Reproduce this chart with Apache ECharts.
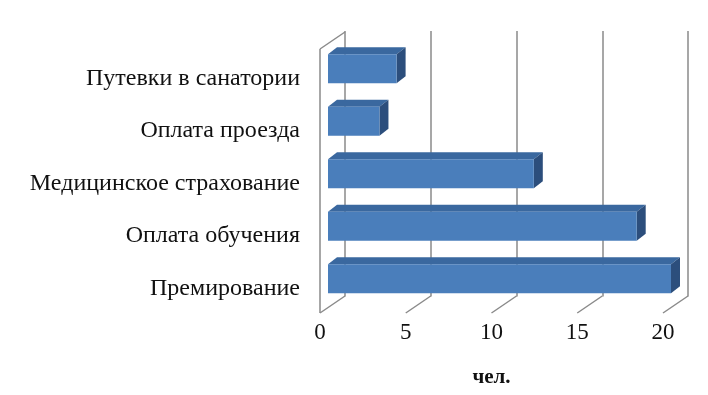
<!DOCTYPE html>
<html><head><meta charset="utf-8">
<script src="https://cdn.jsdelivr.net/npm/echarts@6/dist/echarts.min.js"></script>
<style>html,body{margin:0;padding:0;background:#fff}#c{width:708px;height:395px}</style>
</head><body><div id="c"></div>
<script>
var categories = ['Премирование', 'Оплата обучения', 'Медицинское страхование', 'Оплата проезда', 'Путевки в санатории'];
var values = [20, 18, 12, 3, 4];
var xTicks = [0, 5, 10, 15, 20];
var xName = 'чел.';

var DEPTH_X = 25, DEPTH_Y = 17;   // wall depth
var BAR_DX = 8, BAR_DY = 9.5;     // bar front-face offset from front plane
var BD_X = 9, BD_Y = 7;           // bar depth
var FONT = '"Liberation Serif","Times New Roman",serif';

var chart = echarts.init(document.getElementById('c'));
chart.setOption({
  animation: false,
  grid: [
    {left: 345, width: 343, top: 31, bottom: 395 - 296.5},
    {left: 320, width: 343, top: 52, height: 262.5}
  ],
  xAxis: [
    {gridIndex: 0, type: 'value', min: 0, max: 20, interval: 5,
     axisLine: {show: false}, axisTick: {show: false}, axisLabel: {show: false},
     splitLine: {show: true, lineStyle: {color: '#8a8a8a', width: 1.5}}},
    {gridIndex: 1, type: 'value', min: 0, max: 20, interval: 5,
     axisLine: {show: false}, axisTick: {show: false}, splitLine: {show: false},
     axisLabel: {margin: 7, fontFamily: FONT, fontSize: 23, color: '#111'},
     name: xName, nameLocation: 'middle', nameGap: 53,
     nameTextStyle: {fontFamily: FONT, fontSize: 21, fontWeight: 'bold', color: '#111'}}
  ],
  yAxis: [
    {gridIndex: 0, type: 'value', show: false},
    {gridIndex: 1, type: 'category', data: categories,
     axisLine: {show: false}, axisTick: {show: false}, splitLine: {show: false},
     axisLabel: {margin: 20, fontFamily: FONT, fontSize: 24, color: '#111'}}
  ],
  series: [
    {
      type: 'custom', xAxisIndex: 1, yAxisIndex: 1, z: 1,
      data: xTicks.map(function (t) { return [t]; }),
      encode: {x: 0},
      renderItem: function (params, api) {
        var cs = params.coordSys;
        var x = api.coord([api.value(0), 0])[0];
        var yb = cs.y + cs.height - 1.5;
        var children = [{type: 'line', shape: {x1: x, y1: yb, x2: x + DEPTH_X, y2: yb - DEPTH_Y},
                         style: {stroke: '#8a8a8a', lineWidth: 1.5}}];
        if (params.dataIndex === 0) {
          var yt = 31 + DEPTH_Y + 1;
          children.push({type: 'line', shape: {x1: x, y1: yt, x2: x, y2: yb}, style: {stroke: '#8a8a8a', lineWidth: 1.5}});
          children.push({type: 'line', shape: {x1: x, y1: yt, x2: x + DEPTH_X, y2: yt - DEPTH_Y}, style: {stroke: '#8a8a8a', lineWidth: 1.5}});
        }
        return {type: 'group', children: children};
      }
    },
    {
      type: 'custom', xAxisIndex: 1, yAxisIndex: 1, z: 5,
      data: values.map(function (v, i) { return [v, i]; }),
      encode: {x: 0, y: 1},
      renderItem: function (params, api) {
        var p0 = api.coord([0, api.value(1)]);
        var p1 = api.coord([api.value(0), api.value(1)]);
        var h = api.size([0, 1])[1] * 0.55;
        var x0 = p0[0] + BAR_DX, x1 = p1[0] + BAR_DX;
        var yc = p0[1] - BAR_DY;
        var yt = yc - h / 2, yb = yc + h / 2;
        return {type: 'group', children: [
          {type: 'polygon', shape: {points: [[x0, yt], [x1, yt], [x1 + BD_X, yt - BD_Y], [x0 + BD_X, yt - BD_Y]]},
           style: {fill: '#3a689f'}},
          {type: 'polygon', shape: {points: [[x1, yt], [x1 + BD_X, yt - BD_Y], [x1 + BD_X, yb - BD_Y], [x1, yb]]},
           style: {fill: '#2c4e7c'}},
          {type: 'rect', shape: {x: x0, y: yt, width: x1 - x0, height: h},
           style: {fill: '#4a7ebb'}}
        ]};
      }
    }
  ]
});
</script></body></html>
